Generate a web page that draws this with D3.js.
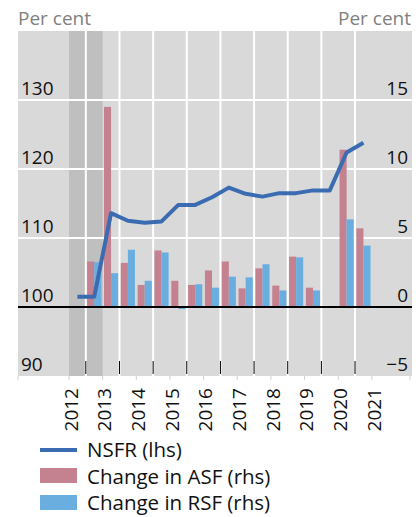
<!DOCTYPE html>
<html><head><meta charset="utf-8">
<script src="https://cdn.jsdelivr.net/npm/d3@7"></script>
<style>
body{margin:0;background:#fff;}
text{font-family:"Open Sans",sans-serif;}
</style>
</head><body>
<svg id="c" width="420" height="517"></svg>
<script>
// ---- data ----
const periods = ["2012-H1","2012-H2","2013-H1","2013-H2","2014-H1","2014-H2","2015-H1","2015-H2","2016-H1","2016-H2","2017-H1","2017-H2","2018-H1","2018-H2","2019-H1","2019-H2","2020-H1","2020-H2"];
const nsfr = [101.5,101.5,113.6,112.5,112.2,112.4,114.8,114.8,115.9,117.3,116.4,116.0,116.5,116.5,116.9,116.9,122.4,123.8];
const asfChange = [null,3.3,14.5,3.2,1.6,4.1,1.9,1.6,2.65,3.3,1.35,2.8,1.55,3.65,1.4,null,11.4,5.7];
const rsfChange = [null,3.25,2.45,4.15,1.9,3.95,-0.15,1.65,1.4,2.2,2.15,3.1,1.2,3.6,1.2,null,6.35,4.45];
const yearLabels = ["2012","2013","2014","2015","2016","2017","2018","2019","2020","2021"];
const leftTicks = [90,100,110,120,130];
const rightTicks = [-5,0,5,10,15];
const shadedPeriod = ["2012-H1","2012-H2"];
const legendItems = ["NSFR (lhs)","Change in ASF (rhs)","Change in RSF (rhs)"];

// ---- layout ----
const W=420,H=517;
const plot={left:18,right:412,top:31,bottom:376};
const col={bg:"#d9d9d9",shade:"#bfbfbf",asf:"#c4818f",rsf:"#6aaee0",line:"#3b6cb1",grey:"#808080"};

const svg=d3.select("#c");
const periodStart=p=>{const [y,h]=p.split("-H");return +y+(+h-1)*0.5;};
const x=d3.scaleLinear().domain([2012,2022]).range([69,405.5]);
const yL=d3.scaleLinear().domain([90,140]).range([plot.bottom,plot.top]);
const yR=d3.scaleLinear().domain([-5,20]).range([plot.bottom,plot.top]);
const slotW=x(2012.5)-x(2012);

// background
svg.append("rect").attr("x",plot.left).attr("y",plot.top).attr("width",plot.right-plot.left).attr("height",plot.bottom-plot.top).attr("fill",col.bg);
// shaded
svg.append("rect").attr("x",x(periodStart(shadedPeriod[0]))).attr("y",plot.top)
  .attr("width",x(periodStart(shadedPeriod[1])+0.5)-x(periodStart(shadedPeriod[0])))
  .attr("height",plot.bottom-plot.top).attr("fill",col.shade);

// vertical gridlines at mid-year
const midYears=yearLabels.slice(0,9).map(d=>+d+0.5);
svg.append("g").selectAll("line").data(midYears).join("line")
  .attr("x1",d=>x(d)).attr("x2",d=>x(d)).attr("y1",plot.top).attr("y2",plot.bottom)
  .attr("stroke","#fff").attr("stroke-width",2);
// horizontal gridlines
svg.append("g").selectAll("line").data(leftTicks.filter(d=>d>100)).join("line")
  .attr("x1",plot.left).attr("x2",plot.right).attr("y1",d=>yL(d)).attr("y2",d=>yL(d))
  .attr("stroke","#fff").attr("stroke-width",2);

// bars
const bw=slotW*0.42;
const gBars=svg.append("g");
periods.forEach((p,i)=>{
  const c=x(periodStart(p)+0.25);
  if(asfChange[i]!=null){
    const v=asfChange[i];
    gBars.append("rect").attr("x",c-bw).attr("width",bw)
      .attr("y",yR(Math.max(0,v))).attr("height",Math.abs(yR(v)-yR(0))).attr("fill",col.asf);
  }
  if(rsfChange[i]!=null){
    const v=rsfChange[i];
    gBars.append("rect").attr("x",c).attr("width",bw)
      .attr("y",yR(Math.max(0,v))).attr("height",Math.abs(yR(v)-yR(0))).attr("fill",col.rsf);
  }
});

// zero line
svg.append("line").attr("x1",plot.left).attr("x2",plot.right).attr("y1",yL(100)).attr("y2",yL(100))
  .attr("stroke","#000").attr("stroke-width",2);

// NSFR line
const line=d3.line().x((d,i)=>x(periodStart(periods[i])+0.25)).y(d=>yL(d));
svg.append("path").datum(nsfr).attr("d",line).attr("fill","none")
  .attr("stroke",col.line).attr("stroke-width",4).attr("stroke-linejoin","round").attr("stroke-linecap","butt");

// inner bottom ticks
svg.append("g").selectAll("line").data(midYears).join("line")
  .attr("x1",d=>x(d)).attr("x2",d=>x(d)).attr("y1",plot.bottom-15).attr("y2",plot.bottom-2)
  .attr("stroke","#000").attr("stroke-width",1);
// outer light ticks
const outerTicks=[plot.left,...yearLabels.map(d=>x(+d)),plot.right-2];
svg.append("g").selectAll("line").data(outerTicks).join("line")
  .attr("x1",d=>d).attr("x2",d=>d).attr("y1",plot.bottom).attr("y2",plot.bottom+4)
  .attr("stroke","#d0d0d0").attr("stroke-width",1);

// axis labels
svg.append("g").selectAll("text").data(leftTicks).join("text")
  .attr("x",21).attr("y",d=>yL(d)-5.5).attr("font-size",19).attr("fill","#111").text(d=>d);
svg.append("g").selectAll("text").data(rightTicks).join("text")
  .attr("x",408).attr("y",d=>yR(d)-5.5).attr("font-size",19).attr("fill","#111")
  .attr("text-anchor","end").text(d=>d<0?"\u2212"+Math.abs(d):d);

// per cent
svg.append("text").attr("x",18).attr("y",25).attr("font-size",19).attr("fill",col.grey).text("Per cent");
svg.append("text").attr("x",411).attr("y",25).attr("font-size",19).attr("fill",col.grey).attr("text-anchor","end").text("Per cent");

// year labels
svg.append("g").selectAll("text").data(yearLabels).join("text")
  .attr("transform",d=>`translate(${x(+d)+2},388) rotate(-90)`)
  .attr("text-anchor","end").attr("dy","0.35em").attr("font-size",19).attr("fill","#111").text(d=>d);

// legend
const lg=svg.append("g");
lg.append("line").attr("x1",40).attr("x2",77).attr("y1",450).attr("y2",450).attr("stroke",col.line).attr("stroke-width",4);
lg.append("rect").attr("x",40).attr("y",468).attr("width",37).attr("height",15).attr("fill",col.asf);
lg.append("rect").attr("x",40).attr("y",495).attr("width",37).attr("height",15).attr("fill",col.rsf);
lg.selectAll("text").data(legendItems).join("text")
  .attr("x",87).attr("y",(d,i)=>457+i*26.5).attr("font-size",20.5).attr("fill","#111").text(d=>d);
</script>
</body></html>
